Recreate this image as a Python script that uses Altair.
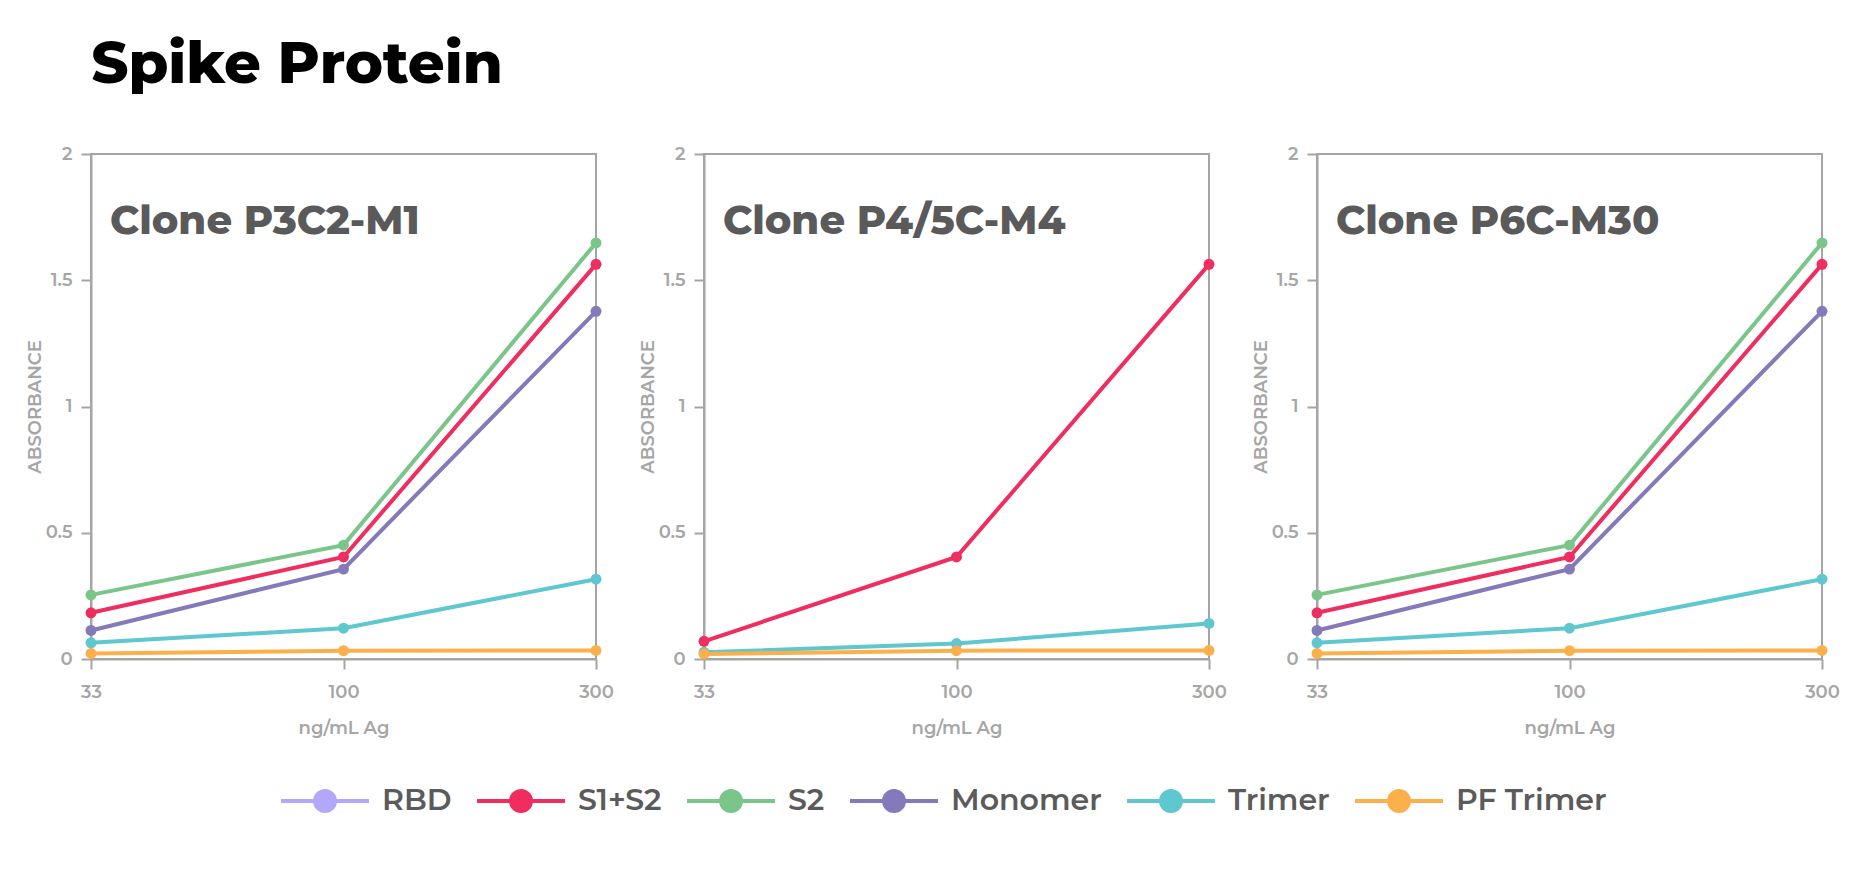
import altair as alt
import pandas as pd

concs = ["33", "100", "300"]
series = ["RBD", "S1+S2", "S2", "Monomer", "Trimer", "PF Trimer"]
colors = ["#B2A8FA", "#EF2D5E", "#7AC68A", "#8479BA", "#5EC7CF", "#FBB04B"]
clones = ["Clone P3C2-M1", "Clone P4/5C-M4", "Clone P6C-M30"]

# Panel 1: Clone P3C2-M1
p1_s1s2 = [0.183, 0.404, 1.563]
p1_s2 = [0.254, 0.451, 1.648]
p1_monomer = [0.113, 0.356, 1.377]
p1_trimer = [0.064, 0.122, 0.316]
p1_pf = [0.022, 0.033, 0.034]

# Panel 2: Clone P4/5C-M4
p2_s1s2 = [0.070, 0.404, 1.563]
p2_trimer = [0.027, 0.061, 0.141]
p2_pf = [0.020, 0.033, 0.034]

# Panel 3: Clone P6C-M30
p3_s1s2 = [0.183, 0.404, 1.563]
p3_s2 = [0.254, 0.451, 1.648]
p3_monomer = [0.113, 0.356, 1.377]
p3_trimer = [0.064, 0.122, 0.316]
p3_pf = [0.022, 0.033, 0.034]

panel_series = [
    {"S1+S2": p1_s1s2, "S2": p1_s2, "Monomer": p1_monomer, "Trimer": p1_trimer, "PF Trimer": p1_pf},
    {"S1+S2": p2_s1s2, "Trimer": p2_trimer, "PF Trimer": p2_pf},
    {"S1+S2": p3_s1s2, "S2": p3_s2, "Monomer": p3_monomer, "Trimer": p3_trimer, "PF Trimer": p3_pf},
]

FONT = "Montserrat, Inter, sans-serif"
GRAY = "#a6a6a6"

color_scale = alt.Scale(domain=series, range=colors)
legend_path = "M-4.4,0H4.4M-1,0A1,1 0 1,0 1,0A1,1 0 1,0 -1,0Z"


def panel(name, data):
    rows = []
    for s in series:
        if s in data:
            for c, v in zip(concs, data[s]):
                rows.append({"series": s, "conc": c, "value": v})
    df = pd.DataFrame(rows)
    x = alt.X("conc:O", sort=concs, scale=alt.Scale(type="point", padding=0),
              axis=alt.Axis(title="ng/mL Ag", labelAngle=0, labelPadding=14, titlePadding=18))
    y = alt.Y("value:Q", scale=alt.Scale(domain=[0, 2]),
              axis=alt.Axis(title="ABSORBANCE", values=[0, 0.5, 1, 1.5, 2], format="~g",
                            labelPadding=9, titlePadding=1))
    color = alt.Color("series:N", scale=color_scale,
                      legend=alt.Legend(title=None, orient="none", direction="horizontal",
                                        legendX=185, legendY=632,
                                        symbolType=legend_path, symbolSize=400,
                                        symbolStrokeWidth=4, symbolOffset=34,
                                        labelOffset=42, columnPadding=17,
                                        labelFontSize=30, labelFont=FONT,
                                        labelFontWeight=600, labelColor="#5b5b5b",
                                        labelLimit=400))
    base = alt.Chart(df)
    lines = base.mark_line(strokeWidth=4).encode(x=x, y=y, color=color)
    points = base.mark_point(filled=True, size=120, opacity=1).encode(x=x, y=y, color=color)
    title = alt.Chart(pd.DataFrame({"clone": [name]})).mark_text(
        align="left", baseline="alphabetic", fontSize=40, fontWeight=800,
        font=FONT, color="#5a5a5a"
    ).encode(text="clone:N", x=alt.value(19), y=alt.value(80))
    return alt.layer(lines, points, title).properties(width=505, height=505)


panels = [panel(n, d) for n, d in zip(clones, panel_series)]

chart = alt.hconcat(*panels, spacing=108, bounds="flush").resolve_scale(
    color="shared"
).resolve_legend(color="shared").properties(
    title=alt.Title("Spike Protein", anchor="start", fontSize=57.5, fontWeight=800,
                    font=FONT, color="#000000", offset=49, dx=66),
    padding={"left": 17, "top": 28, "right": 10, "bottom": 10},
).configure_view(
    stroke="#a5a5a5", strokeWidth=2
).configure_axis(
    grid=False, domainColor="#a5a5a5", domainWidth=2, tickColor="#a5a5a5",
    tickWidth=2, tickSize=10, labelColor=GRAY, labelFont=FONT, labelFontSize=18,
    labelFontWeight=600, titleColor=GRAY, titleFont=FONT, titleFontSize=18,
    titleFontWeight=600
)

chart.save("out.html", embed_options={"renderer": "svg", "actions": False})
